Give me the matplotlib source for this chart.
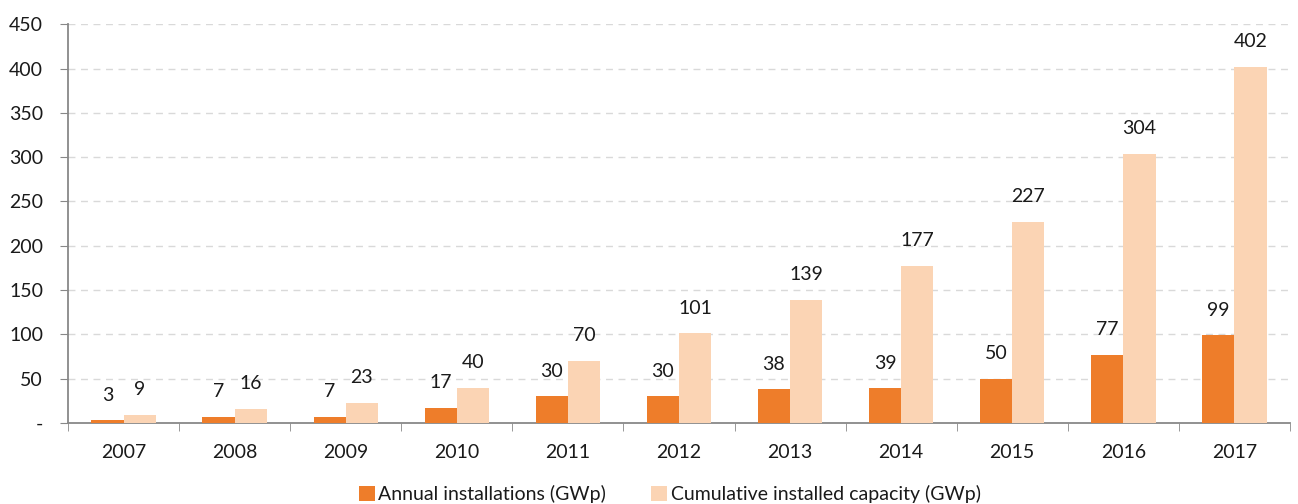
import numpy as np
import matplotlib.pyplot as plt
from matplotlib.ticker import FixedLocator

plt.rcParams['font.family'] = ['Lato', 'DejaVu Sans']

years = ['2007', '2008', '2009', '2010', '2011', '2012', '2013', '2014', '2015', '2016', '2017']
annual = [3, 7, 7, 17, 30, 30, 38, 39, 50, 77, 99]
cumulative = [9, 16, 23, 40, 70, 101, 139, 177, 227, 304, 402]

fig = plt.figure(figsize=(12.98, 5.04), dpi=100)
ax = fig.add_axes([0.0524, 0.1607, 0.9414, 0.7913])

x = np.arange(len(years))
w = 0.29
b1 = ax.bar(x - w / 2, annual, w, color='#EE7D2A', label='Annual installations (GWp)', zorder=3)
b2 = ax.bar(x + w / 2, cumulative, w, color='#FBD4B4', label='Cumulative installed capacity (GWp)', zorder=3)

# value labels above each bar
for bars, vals in [(b1, annual), (b2, cumulative)]:
    for r, v in zip(bars, vals):
        ax.annotate(str(v), (r.get_x() + r.get_width() / 2, r.get_height()),
                    xytext=(0, 12), textcoords='offset points', ha='center', va='bottom',
                    fontsize=14, color='#1a1a1a')

ax.set_xlim(-0.5, len(years) - 0.5)
ax.set_ylim(0, 450)
ax.set_yticks(range(0, 451, 50))
ax.set_yticklabels(['-'] + [str(v) for v in range(50, 451, 50)])
ax.set_xticks(x)
ax.set_xticklabels(years)
ax.xaxis.set_minor_locator(FixedLocator(np.arange(-0.5, len(years), 1)))
ax.tick_params(axis='x', which='major', length=0, pad=15, labelsize=14, labelcolor='#1a1a1a')
ax.tick_params(axis='x', which='minor', length=6, color='#888888', direction='out')
ax.tick_params(axis='y', length=6, color='#888888', labelsize=14, pad=12, labelcolor='#1a1a1a')

for v in range(50, 451, 50):
    ax.axhline(v, color='#D9D9D9', linestyle=(0, (5, 4)), linewidth=1, zorder=1)

for s in ['top', 'right']:
    ax.spines[s].set_visible(False)
for s in ['left', 'bottom']:
    ax.spines[s].set_color('#888888')
    ax.spines[s].set_linewidth(1.3)

fig.legend(handles=[b1, b2], loc='lower center', bbox_to_anchor=(0.516, -0.033), ncol=2,
           frameon=False, fontsize=14, handlelength=0.82, handleheight=0.82,
           handletextpad=0.2, columnspacing=2.3, labelcolor='#1a1a1a')

fig.savefig('out.png', dpi=100)
